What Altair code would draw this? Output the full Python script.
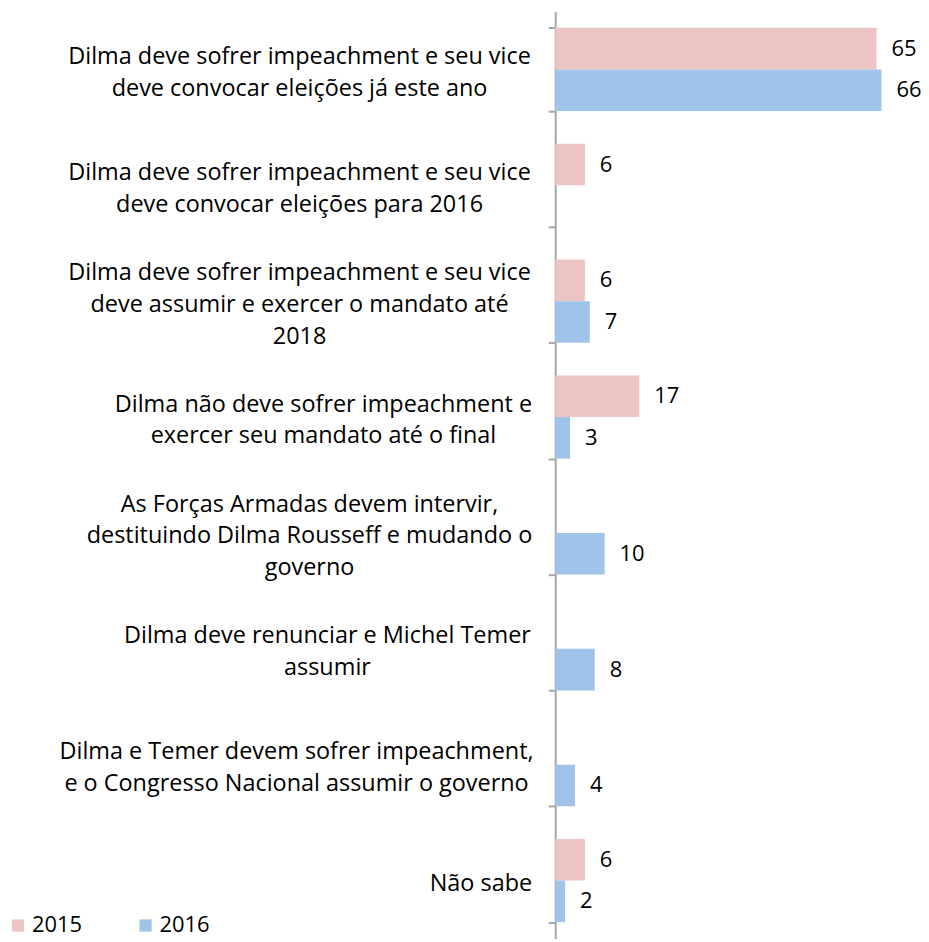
import altair as alt
import pandas as pd

categories = [
    "Dilma deve sofrer impeachment e seu vice|deve convocar eleições já este ano",
    "Dilma deve sofrer impeachment e seu vice|deve convocar eleições para 2016",
    "Dilma deve sofrer impeachment e seu vice|deve assumir e exercer o mandato até|2018",
    "Dilma não deve sofrer impeachment e|exercer seu mandato até o final",
    "As Forças Armadas devem intervir,|destituindo Dilma Rousseff e mudando o|governo",
    "Dilma deve renunciar e Michel Temer|assumir",
    "Dilma e Temer devem sofrer impeachment,|e o Congresso Nacional assumir o governo",
    "Não sabe",
]
series = ["2015", "2016"]
v2015 = [65, 6, 6, 17, None, None, None, 6]
v2016 = [66, None, 7, 3, 10, 8, 4, 2]
colors = ["#ECC4C4", "#A0C3EA"]

# horizontal gap (px) between tick end and the centre of each label block
label_gap = [250, 250, 250, 226, 240, 222, 253, 68]

rows = []
for cat, a, b in zip(categories, v2015, v2016):
    if a is not None:
        rows.append({"cat": cat, "ano": "2015", "valor": a})
    if b is not None:
        rows.append({"cat": cat, "ano": "2016", "valor": b})
df = pd.DataFrame(rows)

FONT = "Open Sans, Lato, sans-serif"
LINE_H = 32
SHIFT = 3

pad_cond = {
    "condition": [
        {"test": "datum.value === '%s'" % c, "value": g}
        for c, g in zip(categories, label_gap)
    ],
    "value": 20,
}
off_cond = {
    "condition": [
        {"test": "length(split(datum.label, '|')) == 3", "value": -LINE_H + SHIFT},
        {"test": "length(split(datum.label, '|')) == 2", "value": -LINE_H / 2 + SHIFT},
    ],
    "value": SHIFT,
}

y = alt.Y(
    "cat:N",
    sort=categories,
    scale=alt.Scale(domain=categories, paddingInner=0.282, paddingOuter=0.141),
    axis=alt.Axis(
        title=None,
        labelExpr="split(datum.label, '|')",
        labelFont=FONT,
        labelFontSize=23.5,
        labelColor="#000000",
        labelLineHeight=LINE_H,
        labelAlign="center",
        labelPadding=pad_cond,
        labelOffset=off_cond,
        labelLimit=0,
        tickBand="extent",
        tickSize=7,
        tickWidth=2,
        tickColor="#A6A6A6",
        domainColor="#A6A6A6",
        domainWidth=2,
        grid=False,
    ),
)
yoff = alt.YOffset("ano:N", scale=alt.Scale(domain=series))
x = alt.X("valor:Q", scale=alt.Scale(domain=[0, 74], nice=False), axis=None)

bars = alt.Chart(df).mark_bar().encode(
    x=x,
    y=y,
    yOffset=yoff,
    color=alt.Color(
        "ano:N",
        scale=alt.Scale(domain=series, range=colors),
        legend=alt.Legend(
            title=None,
            orient="none",
            legendX=-550,
            legendY=906,
            direction="horizontal",
            symbolType="square",
            symbolSize=150,
            symbolStrokeWidth=0,
            labelFont=FONT,
            labelFontSize=22,
            labelColor="#000000",
            labelOffset=3,
            columnPadding=52,
        ),
    ),
)

texts = alt.Chart(df).mark_text(
    align="left", baseline="middle", dx=15, font=FONT, fontSize=22, color="#000000"
).encode(
    x=x,
    y=y,
    yOffset=yoff,
    text=alt.Text("valor:Q"),
)

chart = (
    alt.layer(bars, texts)
    .properties(
        width=367,
        height=930,
        autosize=alt.AutoSizeParams(type="none"),
        padding={"left": 549, "top": 2, "right": 0, "bottom": 0},
    )
    .configure_view(stroke=None)
)

chart.save("out.html", embed_options={"renderer": "svg", "actions": False})
